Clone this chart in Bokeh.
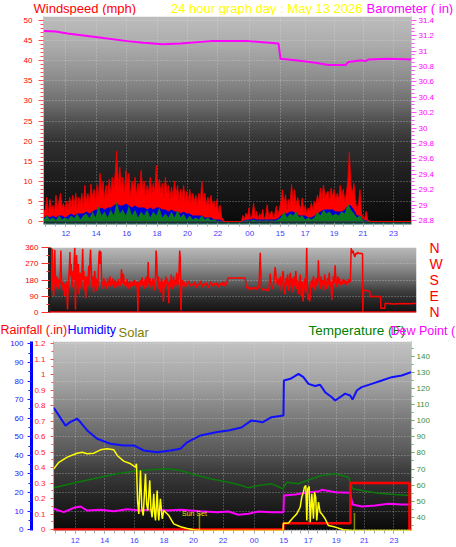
import numpy as np
from bokeh.plotting import figure
from bokeh.models import Range1d, LinearAxis, FixedTicker, Label, Span, Grid
from bokeh.layouts import column
from bokeh.embed import file_html
from bokeh.resources import INLINE
from bokeh.core.properties import value

# ---------------- axis / category data ----------------
X_START, X_END = 10.53, 34.74
X_TICKS = [12, 14, 16, 18, 20, 22, 24.1, 26.1, 27.75, 29.65, 31.55, 33.55]
X_TICK_LABELS = ["12", "14", "16", "18", "20", "22", "00", "15", "17", "19", "21", "23"]

WS_TICKS = [0, 5, 10, 15, 20, 25, 30, 35, 40, 45, 50]
BARO_TICKS = [28.8, 29, 29.2, 29.4, 29.6, 29.8, 30, 30.2, 30.4, 30.6, 30.8, 31, 31.2, 31.4]
WDIR_TICKS = [0, 90, 180, 270, 360]
WDIR_LETTERS = ["N", "E", "S", "W", "N"]
RAIN_TICKS = [0, 0.1, 0.2, 0.3, 0.4, 0.5, 0.6, 0.7, 0.8, 0.9, 1, 1.1, 1.2]
HUM_TICKS = [0, 10, 20, 30, 40, 50, 60, 70, 80, 90, 100]
TEMP_TICKS = [40, 50, 60, 70, 80, 90, 100, 110, 120, 130, 140]

TITLE_MAIN = "24 hour graph day : May 13 2026"

# ---------------- wind speed (mph) ----------------
WIND_T0_D1 = 10.55
WIND_T0_D2 = 23.55
WIND_DT = 0.1
WIND_DT_AVG = 0.2
WIND_GUST_D1 = [2.5, 3, 6, 2, 5.5, 3, 4, 2.5, 6.5, 3,
                5, 7, 3.5, 4.5, 2.5, 5, 3, 6, 3.5, 6.5,
                4, 7, 3.5, 6, 4.5, 7, 3.5, 9, 5, 7,
                4, 9.3, 6, 8, 5, 9, 6, 12, 7, 10,
                5.5, 9, 6, 10.5, 7, 11, 8, 12, 17.5, 9,
                13.5, 8, 11, 7, 12.7, 9, 12, 6, 10, 8,
                11, 6.5, 9.5, 7, 12.7, 8, 10, 6, 9, 7,
                11, 6.5, 9.5, 7.5, 13.9, 8, 10.5, 7, 9.5, 6,
                11, 7, 9, 5.5, 8.5, 6, 10, 6.5, 9, 5,
                8, 6, 9, 5, 7.5, 5, 8, 4.5, 7, 5,
                6.5, 4, 7, 5, 10, 5, 7, 4, 6, 3.5,
                6.5, 4, 5, 3, 5.5, 2, 4, 1, 0.5, 0]
WIND_GUST_D2 = [0, 1.5, 0.5, 2, 1, 3.4, 0.5, 1.5, 4.6, 1,
                2.5, 0.5, 2, 1, 3, 0.5, 1.5, 4.2, 1, 2,
                2.6, 0.5, 2, 3.8, 1.5, 3, 5, 7.9, 4, 6.7,
                3, 5.5, 4, 9.2, 5, 7.9, 4, 6, 4.2, 3,
                5.8, 2.5, 4, 2, 3.4, 2.5, 4.6, 3, 5, 4,
                6.5, 5, 8.3, 5.5, 9.1, 6, 7, 7.5, 5, 8.3,
                6, 7.9, 5, 7, 5.5, 9, 6, 8, 5, 7,
                10, 17.2, 9, 7, 9.5, 5, 3, 4.2, 7.9, 2,
                1, 0.5, 2.5, 0.5, 0]
WIND_AVG_D1 = [1, 1.5, 1, 1.5, 1, 1.5, 1.5, 1, 1.5, 2,
               1.5, 2, 2, 2, 2.5, 2, 2.5, 3, 3, 3.5,
               3, 3.5, 3.5, 4, 4.5, 4, 4, 4.5, 4, 3.5,
               4, 3.5, 3.5, 3.5, 3, 3.5, 3, 3.5, 3.5, 3,
               3, 2.5, 3, 2.5, 2.5, 2, 2.5, 2, 2, 1.5,
               1.5, 1.5, 1.5, 1, 1, 1, 0.5, 0.5, 0.5, 0]
WIND_AVG_D2 = [0, 0.3, 0.5, 0.5, 0.8, 0.5, 0.5, 0.5, 0.5, 0.5,
               0.5, 0.5, 0.8, 1.5, 2, 2, 2.5, 2.5, 2, 1.5,
               1.5, 1.5, 1, 1, 1.5, 2, 2.5, 3, 3, 3,
               3, 2.5, 2.5, 2.5, 3, 4, 4, 3, 1.5, 1.5,
               0.5, 0.3, 0]
WIND_LOW_D1 = [0.5, 1.5, 0.5, 1, 0.3, 1.5, 0.5, 1, 0.5, 1.5,
               0.8, 2, 0.5, 1.5, 2, 0.8, 2.5, 1, 3.8, 1.5,
               2.5, 1, 3, 1.5, 5, 2, 3, 1.5, 4, 1.5,
               3, 1, 2.5, 1.5, 3, 1, 2.5, 1.5, 3.5, 1,
               2, 1, 2.5, 1, 3, 1, 2, 0.5, 1.5, 0.5,
               1, 0.5, 1.5, 0.5, 1, 0.3, 0.5, 0.2, 0.2, 0]
WIND_LOW_D2 = [0, 0.2, 0.3, 0.2, 0.5, 0.2, 0.3, 0.2, 0.3, 0.2,
               0.3, 0.2, 0.5, 1, 2.5, 1, 2, 1.5, 2.5, 1,
               1.5, 0.5, 1, 0.5, 1, 2.5, 1.5, 3, 2, 2.5,
               1.5, 2, 1.5, 2.5, 2, 4.5, 3, 2, 1, 1.5,
               0.3, 0.2, 0]

# ---------------- barometer (in) ----------------
BARO = [(10.53, 31.26), (11.32, 31.255), (12.11, 31.23), (14.08, 31.18), (16.06, 31.13),
        (17.11, 31.11), (18.36, 31.09), (19.54, 31.10), (21.52, 31.13), (22.70, 31.13),
        (24.02, 31.13), (25.99, 31.10), (26.12, 30.90), (27.11, 30.88), (28.42, 30.85),
        (29.28, 30.82), (30.40, 30.82), (30.59, 30.86), (31.45, 30.88), (31.71, 30.87),
        (31.91, 30.89), (33.23, 30.90), (34.74, 30.89)]

# ---------------- wind direction (deg) ----------------
WDIR_T0_A = 10.60
WDIR_DT_A = 0.04
WDIR_A = [330, 360, 120, 355, 200, 90, 170, 350, 180, 140,
          200, 160, 190, 130, 180, 150, 200, 345, 180, 140,
          170, 120, 160, 90, 150, 130, 170, 110, 15, 150,
          190, 250, 336, 200, 270, 170, 140, 230, 180, 300,
          360, 15, 180, 320, 200, 140, 270, 100, 170, 220,
          150, 130, 250, 355, 180, 230, 120, 200, 80, 160,
          200, 150, 180, 260, 140, 300, 350, 250, 180, 140,
          200, 110, 170, 230, 150, 190, 120, 180, 140, 240,
          330, 345, 270, 340, 200, 150, 170, 130, 190,
          150, 175, 140, 160, 130, 190, 150, 170, 140, 200,
          160, 145, 175, 155, 190, 150, 135, 165, 180, 150,
          170, 140, 160, 185, 150, 165, 145, 175, 240, 190,
          160, 215, 180, 150, 170, 140, 160, 185, 150, 130,
          165, 150, 175, 140, 160, 150, 170, 145, 160, 180,
          150, 165, 140, 170, 155, 5, 150,
          170, 140, 180, 150, 165, 195, 150, 175, 130, 160,
          185, 150, 200, 140, 170, 280, 180, 150, 190, 160,
          135, 175, 150, 190, 160, 120, 170, 200, 345, 300,
          180, 150, 200, 130, 170, 110, 160, 190, 140, 170,
          60, 150, 180, 140, 200, 160, 190, 130, 170, 50,
          150, 180, 140, 210, 160, 130, 170, 200, 150, 180,
          140, 160, 220, 170, 150, 190, 240, 345, 300, 10,
          130, 180]
WDIR_T0_B = 19.3
WDIR_DT_B = 0.1
WDIR_B = [150, 170, 140, 160, 175, 145, 160, 150, 170, 135,
          160, 150, 175, 140, 160, 150, 165, 135, 155, 170,
          145, 160, 150, 165, 140, 160, 150, 170, 145, 160,
          190]
WDIR_C = [(22.34, 191), (23.44, 191), (23.50, 142), (23.55, 135), (23.65, 140), (23.75, 125),
          (23.85, 140), (23.95, 130), (24.05, 138), (24.15, 125), (24.25, 140), (24.35, 135),
          (24.43, 332), (24.50, 140), (24.6, 124), (24.7, 125), (24.8, 130), (24.9, 120),
          (25.0, 124), (25.09, 216), (25.16, 150), (25.24, 130), (25.32, 160), (25.42, 253),
          (25.50, 180), (25.58, 150), (25.64, 188), (25.70, 150), (25.76, 200), (25.82, 120),
          (25.88, 180), (25.94, 230), (26.00, 140), (26.06, 100), (26.12, 190), (26.18, 150),
          (26.24, 210), (26.30, 120), (26.36, 170), (26.42, 220), (26.48, 140), (26.54, 190),
          (26.60, 110), (26.66, 200), (26.72, 150), (26.78, 230), (26.84, 130), (26.90, 180),
          (26.96, 100), (27.02, 160), (27.08, 210), (27.14, 90), (27.20, 170), (27.26, 60),
          (27.32, 140), (27.38, 190), (27.44, 110), (27.50, 360), (27.54, 130), (27.58, 70),
          (27.64, 100), (27.70, 60), (27.76, 150), (27.82, 180), (27.88, 140), (27.94, 200),
          (28.00, 160), (28.06, 120), (28.12, 190), (28.18, 150), (28.24, 210), (28.27, 290),
          (28.32, 170), (28.38, 130), (28.44, 200), (28.50, 150), (28.56, 180), (28.62, 120),
          (28.68, 210), (28.74, 160), (28.80, 130), (28.86, 190), (28.92, 150), (28.98, 220),
          (29.04, 140), (29.10, 170), (29.15, 68), (29.20, 150), (29.26, 200), (29.32, 160),
          (29.37, 262), (29.42, 180), (29.48, 140), (29.54, 200), (29.60, 160), (29.66, 190),
          (29.72, 150), (29.78, 175), (29.84, 155), (29.90, 185), (29.96, 160), (30.02, 180),
          (30.08, 150), (30.14, 175), (30.20, 160), (30.26, 185), (30.32, 165), (30.38, 180),
          (30.43, 358), (30.50, 330), (30.56, 345), (30.62, 320), (30.68, 310), (30.74, 330),
          (30.80, 325), (30.86, 335), (30.92, 330), (30.98, 328), (31.02, 330), (31.18, 327),
          (31.20, 4), (31.24, 124), (31.45, 120), (31.66, 114), (31.68, 87), (32.37, 87),
          (32.39, 22), (32.65, 22), (32.67, 50), (33.2, 45), (33.8, 48), (34.3, 47), (34.72, 50)]

# ---------------- bottom panel ----------------
HUMIDITY = [(10.55, 65.6), (10.89, 61.5), (11.34, 56), (11.68, 58), (12.13, 59.7), (12.36, 57.8),
            (12.81, 53.4), (13.48, 48.9), (14.38, 46.2), (15.28, 45.3), (15.96, 45.3), (16.64, 42.6),
            (17.54, 41.7), (18.44, 42.6), (19.11, 43.5), (19.57, 47), (20.47, 50.7), (21.60, 52.5),
            (22.36, 53.4), (23.24, 55), (23.92, 58.8), (24.66, 57.8), (25.27, 60.5), (26.08, 61.5),
            (26.11, 80.3), (26.55, 81.2), (27.10, 83.9), (27.43, 82.1), (27.77, 78.5), (28.22, 77.3),
            (28.56, 78), (28.90, 74), (29.35, 71.3), (29.58, 69.5), (29.91, 71.3), (30.25, 73.2),
            (30.59, 72.2), (30.75, 70), (31.04, 74.9), (31.37, 76.7), (32.05, 78.5), (32.73, 80.3),
            (33.40, 82.1), (34.08, 83), (34.72, 84.8)]
TEMPERATURE = [(10.55, 58.3), (12.13, 61.8), (13.71, 64.9), (14.84, 67), (15.96, 68.6), (17.09, 69.5),
               (18.22, 70.1), (19.12, 69.1), (20.02, 66.6), (21.15, 63.9), (22.36, 61.8), (23.26, 59.8),
               (23.71, 58.3), (24.39, 59.8), (25.29, 60.8), (26.05, 57.7), (26.30, 61.8), (27.10, 60.8),
               (27.99, 63.9), (28.67, 66), (29.58, 67), (30.48, 64.9), (30.75, 57.7), (31.38, 56.6),
               (32.50, 55), (33.63, 54.2), (34.72, 53.5)]
DEWPOINT = [(10.55, 45.3), (11.23, 43.2), (11.90, 45.9), (12.36, 46.7), (12.81, 44.2), (13.71, 44.7),
            (14.61, 43.8), (15.51, 45), (16.41, 44.2), (17.31, 45), (18.22, 44.2), (19.12, 44.7),
            (20.47, 43.8), (21.60, 43.2), (22.36, 43.6), (23.04, 41.6), (23.71, 42.2), (24.39, 43.6),
            (25.29, 43.2), (26.08, 43.2), (26.11, 53.5), (26.87, 54.2), (27.77, 55.6), (28.45, 56),
            (28.67, 57.1), (29.58, 55.6), (30.59, 55.2), (30.75, 48), (31.38, 46.7), (32.28, 47.3),
            (33.18, 48.4), (34.08, 48), (34.72, 48)]
RAINFALL = [(10.53, 0), (26.08, 0), (26.08, 0.04), (30.61, 0.04), (30.61, 0.30), (34.60, 0.30),
            (34.60, 0), (34.74, 0)]
SOLAR = [(10.55, 326), (10.89, 361), (11.46, 388), (12.13, 409), (12.47, 414), (12.81, 406),
         (13.26, 409), (13.71, 427), (14.16, 432), (14.61, 427), (14.84, 397), (15.28, 367),
         (15.74, 353), (16.07, 335), (16.14, 353), (16.22, 150), (16.30, 88), (16.41, 317),
         (16.50, 120), (16.60, 79), (16.75, 300), (16.83, 140), (16.91, 106), (17.04, 265),
         (17.12, 110), (17.20, 70), (17.31, 194), (17.37, 90), (17.43, 53), (17.54, 212),
         (17.60, 100), (17.65, 53), (17.76, 168), (17.88, 62), (17.99, 106), (18.33, 79),
         (18.66, 35), (19.12, 20), (19.57, 11), (20.02, 4), (20.47, 0), (26.05, 0),
         (26.08, 38), (26.42, 40), (26.76, 70), (26.98, 88), (27.10, 106), (27.21, 123),
         (27.32, 176), (27.43, 203), (27.50, 229), (27.59, 238), (27.66, 53), (27.72, 220),
         (27.82, 233), (27.89, 44), (28.00, 194), (28.11, 62), (28.18, 203), (28.26, 176),
         (28.33, 53), (28.45, 150), (28.56, 97), (28.67, 88), (28.90, 62), (29.12, 26),
         (29.58, 18), (30.14, 4), (30.70, 0), (34.72, 0)]
SUNSET = [20.40, 30.88]
SUNSET_MARK = 90
SUNSET_TEXT_AT = (20.06, 88)

# ---------------- styling helpers ----------------
FONT = "Liberation Sans"
W = 456


def gray_image(stops, n=256):
    pos = np.linspace(0.0, 1.0, n)
    g = np.interp(pos, [s[0] for s in stops], [s[1] for s in stops]).astype(np.uint8)
    img = np.zeros((n, 1), dtype=np.uint32)
    v = img.view(dtype=np.uint8).reshape((n, 1, 4))
    v[:, 0, 0] = g
    v[:, 0, 1] = g
    v[:, 0, 2] = g
    v[:, 0, 3] = 255
    return img


def add_background(p, y0, y1, stops):
    p.image_rgba(image=[gray_image(stops)], x=X_START, y=y0, dw=X_END - X_START, dh=y1 - y0,
                 level="image")


def style_axis(ax, color, line_color=None, line_dash=None, line_width=1, tick_color=None,
               size="8px", tick_out=4, minor_out=2, standoff=3):
    ax.major_label_text_color = color
    ax.major_label_text_font = FONT
    ax.major_label_text_font_size = size
    ax.axis_line_color = line_color
    if line_dash:
        ax.axis_line_dash = line_dash
    ax.axis_line_width = line_width
    ax.major_tick_line_color = tick_color
    ax.minor_tick_line_color = tick_color
    ax.major_tick_out = tick_out
    ax.major_tick_in = 0
    ax.minor_tick_out = minor_out
    ax.minor_tick_in = 0
    ax.major_label_standoff = standoff


def fmt(ticks):
    return {t: f"{t:g}" for t in ticks}


def x_ticker():
    minors = []
    for a, b in zip(X_TICKS[:-1], X_TICKS[1:]):
        minors += [a + (b - a) * k / 3 for k in range(3)]
    minors += [X_TICKS[0] - 2 * k / 3 for k in (1, 2)]
    minors += [X_TICKS[-1] + 2 * k / 3 for k in (0, 1)]
    return FixedTicker(ticks=X_TICKS, minor_ticks=minors)


def style_x(ax, line_color=None, line_width=1):
    ax.ticker = x_ticker()
    ax.major_label_overrides = dict(zip(X_TICKS, X_TICK_LABELS))
    style_axis(ax, "#3c3cff", line_color=line_color, line_width=line_width, tick_color="#a8a8a8",
               tick_out=3, minor_out=3, standoff=4)


def grid_style(g):
    g.grid_line_color = "#e6e6e6"
    g.grid_line_alpha = 0.5
    g.grid_line_dash = "1 2"


def unz(pairs):
    return [a for a, _ in pairs], [b for _, b in pairs]


def header(height, texts):
    h = figure(width=W, height=height, x_range=Range1d(0, W), y_range=Range1d(0, height),
               title=None, output_backend="svg", toolbar_location=None, x_axis_location=None,
               y_axis_location=None, min_border=0, outline_line_color=None, frame_align=False,
               background_fill_color="white", border_fill_color="white")
    h.grid.visible = False
    for txt, x, y, col, size in texts:
        h.text(x=[x], y=[y], text=[txt], text_color=col, text_font=value(FONT),
               text_font_size=size, text_baseline="middle", text_align="left")
    return h


# ================= header with the three top titles =================
head_top = header(15, [("Windspeed (mph)", 33, 7.5, "#ff0000", "13px"),
                       (TITLE_MAIN, 170.5, 7.5, "#ffff00", "13px"),
                       ("Barometer ( in)", 366, 7.5, "#ff00ff", "13px")])

# ================= TOP: wind speed + barometer =================
top = figure(width=W, height=224, x_range=Range1d(X_START, X_END), y_range=Range1d(-0.5, 51),
             output_backend="svg", toolbar_location=None, frame_align=False,
             min_border_left=43, min_border_right=45, min_border_top=1, min_border_bottom=16,
             border_fill_color="white", outline_line_color=None)
add_background(top, -0.5, 51, [(0, 10), (0.11, 20), (0.25, 33), (0.39, 50), (0.48, 75),
                                (0.58, 110), (0.72, 145), (0.86, 172), (1.0, 190)])
top.extra_y_ranges = {"baro": Range1d(28.76, 31.45)}

gx = np.concatenate([WIND_T0_D1 + WIND_DT * np.arange(len(WIND_GUST_D1)),
                     WIND_T0_D2 + WIND_DT * np.arange(len(WIND_GUST_D2)), [X_END]])
gy = np.concatenate([WIND_GUST_D1, WIND_GUST_D2, [0]])
ax_ = np.concatenate([WIND_T0_D1 + WIND_DT_AVG * np.arange(len(WIND_AVG_D1)),
                      WIND_T0_D2 + WIND_DT_AVG * np.arange(len(WIND_AVG_D2))])
ay = np.concatenate([WIND_AVG_D1, WIND_AVG_D2])
ly = np.concatenate([WIND_LOW_D1, WIND_LOW_D2])

top.varea(x=gx, y1=0, y2=gy, fill_color="#ff0000")
top.line(gx, gy, line_color="#e80000", line_width=1)
top.varea(x=ax_, y1=0, y2=ay, fill_color="#0000d0")
top.varea(x=ax_, y1=0, y2=ly, fill_color="#0c7a1c")
bt, bv = unz(BARO)
top.line(bt, bv, y_range_name="baro", line_color="#ff00ff", line_width=2)

yl = top.yaxis[0]
yl.ticker = FixedTicker(ticks=WS_TICKS, minor_ticks=list(range(0, 51)))
style_axis(yl, "#ff0000", line_color="#ff8080", line_dash="1 1", tick_color="#ff5050",
           tick_out=5, minor_out=3, standoff=6)
yr = LinearAxis(y_range_name="baro",
                ticker=FixedTicker(ticks=BARO_TICKS, minor_ticks=list(np.arange(28.8, 31.46, 0.05))),
                major_label_overrides=fmt(BARO_TICKS))
style_axis(yr, "#ff00ff", line_color="#ff80ff", line_dash="1 1", tick_color="#ff50ff",
           tick_out=5, minor_out=3, standoff=2)
top.add_layout(yr, "right")
style_x(top.xaxis[0], line_color="#245a52", line_width=2)
top.xgrid.ticker = FixedTicker(ticks=X_TICKS)
top.ygrid.ticker = FixedTicker(ticks=WS_TICKS)
grid_style(top.xgrid[0])
grid_style(top.ygrid[0])

# ================= MIDDLE: wind direction =================
mid = figure(width=W, height=81, x_range=Range1d(X_START, X_END), y_range=Range1d(-2, 362),
             output_backend="svg", toolbar_location=None, x_axis_location=None, frame_align=False,
             min_border_left=49, min_border_right=40, min_border_top=8, min_border_bottom=8,
             border_fill_color="white", outline_line_color=None)
add_background(mid, -2, 362, [(0, 18), (0.18, 40), (0.34, 65), (0.51, 105), (0.75, 150), (1.0, 185)])
ct, cv = unz(WDIR_C)
wx = np.concatenate([WDIR_T0_A + WDIR_DT_A * np.arange(len(WDIR_A)),
                     WDIR_T0_B + WDIR_DT_B * np.arange(len(WDIR_B)), ct])
wy = np.concatenate([WDIR_A, WDIR_B, cv])
mid.line(wx, wy, line_color="#ff0000", line_width=1.5)
mid.add_layout(Span(location=0, dimension="width", line_color="#ff0000", line_width=2))

ml = mid.yaxis[0]
ml.ticker = FixedTicker(ticks=WDIR_TICKS, minor_ticks=[45, 135, 225, 315])
style_axis(ml, "#ff0000", line_color="#202020", line_width=3, tick_color="#ff3030",
           tick_out=8, minor_out=3, standoff=3)
mr = LinearAxis(ticker=FixedTicker(ticks=WDIR_TICKS),
                major_label_overrides=dict(zip(WDIR_TICKS, WDIR_LETTERS)))
style_axis(mr, "#ff0000", line_color=None, tick_color=None, size="14px", tick_out=0,
           minor_out=0, standoff=13)
mid.add_layout(mr, "right")
mid.xgrid.visible = False
mid.ygrid.ticker = FixedTicker(ticks=WDIR_TICKS)
grid_style(mid.ygrid[0])

# ================= header with bottom-panel titles =================
head_bot = header(19, [("Rainfall (.in)", 0, 9.7, "#ff0000", "12.5px"),
                       ("Humidity", 67, 9.7, "#0000ff", "12.5px"),
                       ("Solar", 118, 7.4, "#808000", "13px"),
                       ("Temperature (F)", 308, 8.8, "#008000", "13.5px"),
                       ("Dew Point (", 390, 8.8, "#ff00ff", "12.5px")])

# ================= BOTTOM: rain / humidity / solar / temp / dew =================
bot = figure(width=W, height=208, x_range=Range1d(X_START, X_END), y_range=Range1d(-0.006, 1.213),
             output_backend="svg", toolbar_location=None, frame_align=False,
             min_border_left=53, min_border_right=45, min_border_top=2, min_border_bottom=17,
             border_fill_color="white", outline_line_color=None)
add_background(bot, -0.006, 1.213, [(0, 10), (0.16, 35), (0.32, 62), (0.42, 90), (0.58, 120),
                                    (0.79, 165), (1.0, 195)])
bot.extra_y_ranges = {"hum": Range1d(-0.5, 101.3), "temp": Range1d(31.8, 149.2),
                      "solar": Range1d(0, 1000)}

ht, hv = unz(HUMIDITY)
bot.line(ht, hv, y_range_name="hum", line_color="#1010ff", line_width=2)
tt, tv = unz(TEMPERATURE)
bot.line(tt, tv, y_range_name="temp", line_color="#0a7a0a", line_width=1.5)
dt_, dv = unz(DEWPOINT)
bot.line(dt_, dv, y_range_name="temp", line_color="#ff00ff", line_width=2)
rt, rv = unz(RAINFALL)
bot.line(rt, rv, line_color="#ff0000", line_width=2.5)
st, sv = unz(SOLAR)
bot.line(st, sv, y_range_name="solar", line_color="#ffff00", line_width=1.5)
bot.segment(x0=SUNSET, y0=[0] * len(SUNSET), x1=SUNSET, y1=[SUNSET_MARK] * len(SUNSET),
            y_range_name="solar", line_color="#ffff00", line_width=1.5, line_dash="1 1")
bot.add_layout(Label(x=SUNSET_TEXT_AT[0], y=SUNSET_TEXT_AT[1], y_range_name="solar", text="Sun Set",
                     text_color="#e6e600", text_font=FONT, text_font_size="7px",
                     text_align="center", text_baseline="alphabetic"))

rl = bot.yaxis[0]
rl.ticker = FixedTicker(ticks=RAIN_TICKS, minor_ticks=list(np.arange(0, 1.21, 0.05)))
rl.major_label_overrides = fmt(RAIN_TICKS)
style_axis(rl, "#ff2020", line_color="#ff6060", line_dash="1 1", tick_color="#ff5050",
           tick_out=3, minor_out=2, standoff=5)
hl = LinearAxis(y_range_name="hum",
                ticker=FixedTicker(ticks=HUM_TICKS, minor_ticks=list(range(0, 101, 5))))
style_axis(hl, "#2020ff", line_color="#0000ff", line_width=3, tick_color="#2020ff",
           tick_out=4, minor_out=3, standoff=4)
bot.add_layout(hl, "left")
tr = LinearAxis(y_range_name="temp",
                ticker=FixedTicker(ticks=TEMP_TICKS, minor_ticks=list(range(35, 150, 5))))
style_axis(tr, "#3c8c3c", line_color="#80c080", line_dash="1 1", tick_color="#60b060",
           tick_out=3, minor_out=2, standoff=2)
bot.add_layout(tr, "right")
style_x(bot.xaxis[0], line_color=None)
bot.xgrid.ticker = FixedTicker(ticks=X_TICKS)
grid_style(bot.xgrid[0])
bot.ygrid.visible = False
hg = Grid(dimension=1, ticker=FixedTicker(ticks=HUM_TICKS), y_range_name="hum")
grid_style(hg)
bot.add_layout(hg)

layout = column(head_top, top, mid, head_bot, bot)
open("out.html", "w").write(file_html(layout, INLINE))
